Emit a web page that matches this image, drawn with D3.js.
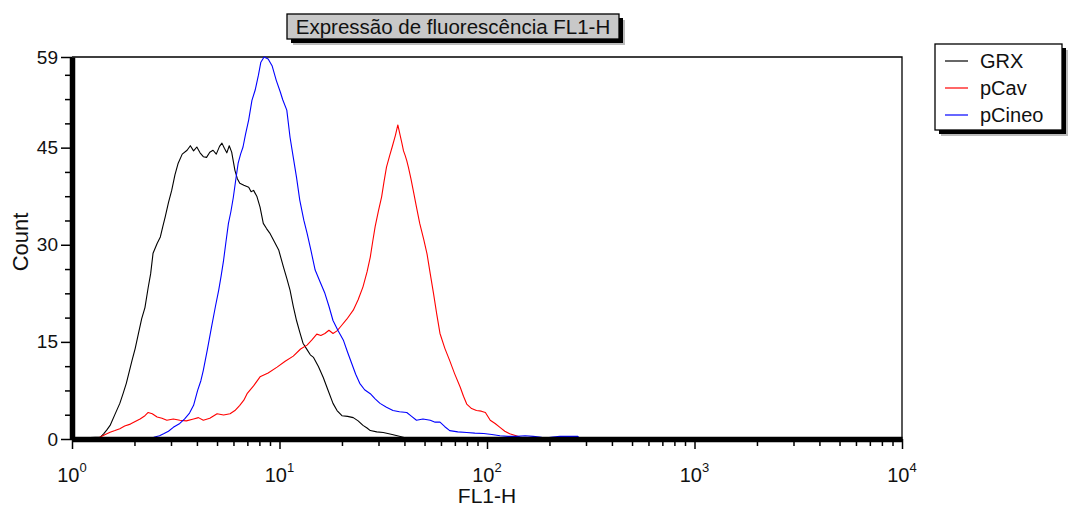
<!DOCTYPE html>
<html><head><meta charset="utf-8">
<script src="https://cdn.jsdelivr.net/npm/d3@7"></script>
<style>body{margin:0;background:#fff} svg{display:block} text{font-family:"Liberation Sans",Arial,sans-serif;fill:#111}</style>
</head><body><svg id="c" width="1074" height="510"></svg>
<script>
const chartTitle = "Expressão de fluorescência FL1-H";
const xLabel = "FL1-H";
const yLabel = "Count";
const seriesNames = ["GRX", "pCav", "pCineo"];
const seriesColors = ["#000000", "#ff0000", "#0000ff"];
const yTickValues = [0, 15, 30, 45, 59];
const yMinorTicks = [3.75, 7.5, 11.25, 18.75, 22.5, 26.25, 33.75, 37.5, 41.25, 48.75, 52.5, 56.25];
const xDecadeExponents = [0, 1, 2, 3, 4];
const channelsPerDecade = 256;

// Histogram data: FL1-H channel (log amplified, 256 channels per decade) and event count
const grxChannel = [0,16,35,39,43,47,53,59,63,67,71,74,78,82,86,90,94,97,100,105,109,112,115,119,123,127,131,136,142,146,150,154,158,162,166,170,174,178,182,185,188,191,194,197,201,204,207,212,218,221,224,228,232,236,240,244,250,255,261,265,269,273,277,281,285,290,294,298,304,310,316,322,327,333,340,347,353,359,364,368,376,384,395,405,417];
const grxCount = [0,0.2,0.3,0.8,1.4,2.1,3.8,5.5,7.0,8.6,10.6,12.1,14.0,16.3,18.6,20.3,23.4,25.5,28.7,30.2,31.2,32.8,34.3,36.5,38.4,40.8,42.6,44.0,44.6,45.3,44.5,45.1,44.2,43.6,43.5,44.3,44.6,44.0,45.2,45.7,44.9,44.2,45.3,44.3,41.5,40.2,39.5,39.2,38.9,38.2,38.4,37.5,35.8,33.3,32.5,31.8,30.4,29.2,26.5,24.8,23.0,20.5,18.3,16.5,14.8,13.8,13.0,12.6,11.2,9.5,7.5,5.5,4.4,3.6,3.5,3.3,2.8,2.1,1.7,1.3,1.1,1.0,0.7,0.4,0];

const pcavChannel = [28,35,41,47,53,59,65,72,78,84,90,94,99,105,111,117,125,133,141,150,156,162,170,179,187,195,201,207,212,216,224,232,242,253,263,273,282,290,296,302,307,312,317,322,327,331,339,347,353,359,364,368,371,374,378,382,385,388,392,395,399,402,405,407,409,411,413,415,418,421,425,429,434,438,442,446,450,454,460,466,472,479,483,487,493,499,505,510,516,522,528,534,540,551,555];
const pcavCount = [0,0.3,0.7,1.05,1.3,1.6,2.0,2.3,2.7,3.1,3.6,4.1,3.9,3.4,3.2,2.9,3.1,2.9,2.8,3.1,3.3,2.9,3.2,3.9,3.7,3.9,4.4,5.2,6.0,7.0,8.2,9.6,10.2,11.1,12.0,12.8,13.9,14.5,15.3,16.2,16.0,16.3,16.8,16.3,16.7,17.3,18.5,19.9,21.5,23.5,25.8,28.1,30.5,32.8,35.2,37.4,39.8,42.0,43.8,45.1,46.9,48.5,46.8,45.7,44.5,43.8,43.0,42.0,40.3,38.4,35.8,33.3,30.8,28.6,25.5,22.5,19.3,16.3,14.0,12.1,10.1,8.0,6.6,5.4,4.7,4.4,4.3,4.1,2.9,2.4,1.8,1.2,0.8,0.4,0];

const pcineoChannel = [96,102,108,113,119,125,133,139,145,150,155,159,162,167,172,177,181,184,187,190,193,196,199,202,205,208,211,214,218,222,226,230,233,237,242,247,252,257,260,265,269,273,277,281,286,290,295,300,306,312,317,322,328,335,340,345,350,355,361,368,374,380,388,396,404,413,419,425,433,442,448,454,460,466,476,487,497,508,518,528,538,549,559,569,577,584,593,602,613,624,627];
const pcineoCount = [0,0.3,0.5,0.8,1.2,1.8,2.4,3.1,4.0,5.2,7.5,9.0,10.6,13.8,17.2,20.5,23.0,25.2,27.6,30.5,33.3,35.1,37.3,40.0,42.6,44.0,45.1,47.0,49.3,52.3,53.9,56.2,58.2,59.0,58.7,57.6,55.4,53.6,52.4,50.8,46.6,43.5,40.4,36.9,33.8,31.8,29.0,26.1,24.3,22.5,20.5,18.3,16.8,15.2,13.4,11.7,10.0,8.6,7.6,7.0,6.2,5.5,4.9,4.4,4.2,4.1,3.5,2.9,3.1,2.9,2.6,2.6,1.9,1.3,1.1,1.0,0.9,0.85,0.7,0.5,0.4,0.4,0.5,0.4,0.3,0.15,0.3,0.4,0.4,0.4,0];

const toFL = ch => Math.pow(10, ch / channelsPerDecade);
const series = [
  {name: seriesNames[0], color: seriesColors[0], ch: grxChannel, n: grxCount},
  {name: seriesNames[1], color: seriesColors[1], ch: pcavChannel, n: pcavCount},
  {name: seriesNames[2], color: seriesColors[2], ch: pcineoChannel, n: pcineoCount}
].map(s => ({...s, points: s.ch.map((c, i) => ({fl: toFL(c), count: s.n[i]}))}));

const plot = {left: 72, right: 902, top: 57, bottom: 439};
const x = d3.scaleLog().domain([1, 1e4]).range([plot.left, plot.right]);
const y = d3.scaleLinear().domain([0, 59]).range([plot.bottom, plot.top]);
const svg = d3.select("#c");

// frame (top & right thin)
svg.append("path")
  .attr("d", `M${plot.left},${plot.top}H${plot.right}V${plot.bottom}`)
  .attr("fill", "none").attr("stroke", "#000").attr("stroke-width", 1.3);

// curves
const line = d3.line().x(d => x(d.fl)).y(d => y(d.count));
series.forEach(s => {
  svg.append("path").datum(s.points).attr("d", line)
    .attr("fill", "none").attr("stroke", s.color).attr("stroke-width", 1.1)
    .attr("stroke-linejoin", "round");
});

// y axis
const gY = svg.append("g").attr("transform", `translate(${plot.left},0)`)
  .call(d3.axisLeft(y).tickValues(yTickValues).tickSize(11).tickSizeOuter(0).tickPadding(3).tickFormat(d3.format("d")));
gY.select(".domain").attr("stroke-width", 5.5);
gY.selectAll(".tick line").attr("stroke-width", 1.5);
gY.selectAll(".tick text").style("font-size", "19px").attr("fill", "#1a1a2a");
svg.append("g").attr("transform", `translate(${plot.left},0)`)
  .call(d3.axisLeft(y).tickValues(yMinorTicks).tickSize(7).tickSizeOuter(0).tickFormat(""))
  .call(g => g.select(".domain").remove())
  .selectAll(".tick line").attr("stroke-width", 1.5);

// x axis
const majorX = xDecadeExponents.map(e => Math.pow(10, e));
const minorX = [];
xDecadeExponents.slice(0, -1).forEach(e => { for (let m = 2; m <= 9; m++) minorX.push(m * Math.pow(10, e)); });
const gX = svg.append("g").attr("transform", `translate(0,${plot.bottom})`)
  .call(d3.axisBottom(x).tickValues(majorX).tickSize(10).tickSizeOuter(0).tickFormat(""));
gX.select(".domain").attr("stroke-width", 5.5);
gX.selectAll(".tick line").attr("stroke-width", 1.5);
svg.append("g").attr("transform", `translate(0,${plot.bottom})`)
  .call(d3.axisBottom(x).tickValues(minorX).tickSize(7).tickSizeOuter(0).tickFormat(""))
  .call(g => g.select(".domain").remove())
  .selectAll(".tick line").attr("stroke-width", 1.5);

// x tick labels 10^n
xDecadeExponents.forEach(e => {
  const t = svg.append("text").attr("x", x(Math.pow(10, e))).attr("y", 482)
    .attr("text-anchor", "middle").style("font-size", "20px").attr("fill", "#1a1a2a");
  t.append("tspan").text("10");
  t.append("tspan").attr("dy", -10).style("font-size", "13px").text(String(e));
});

// axis titles
svg.append("text").attr("x", 487).attr("y", 503).attr("text-anchor", "middle")
  .style("font-size", "21px").text(xLabel);
svg.append("text").attr("transform", "translate(28,242) rotate(-90)").attr("text-anchor", "middle")
  .style("font-size", "22px").text(yLabel);

// title box
const tb = {x: 287, y: 14, w: 332, h: 25};
svg.append("rect").attr("x", tb.x + 6).attr("y", tb.y + 6).attr("width", tb.w).attr("height", tb.h).attr("fill", "#bbbbbb");
svg.append("rect").attr("x", tb.x + 4).attr("y", tb.y + 4).attr("width", tb.w).attr("height", tb.h).attr("fill", "#000");
svg.append("rect").attr("x", tb.x).attr("y", tb.y).attr("width", tb.w).attr("height", tb.h)
  .attr("fill", "#c8c8c8").attr("stroke", "#000").attr("stroke-width", 1.3);
svg.append("text").attr("x", tb.x + tb.w / 2).attr("y", tb.y + 20).attr("text-anchor", "middle")
  .style("font-size", "20.5px").text(chartTitle);

// legend
const lg = {x: 935, y: 44, w: 127, h: 86};
svg.append("rect").attr("x", lg.x + 6).attr("y", lg.y + 6).attr("width", lg.w).attr("height", lg.h).attr("fill", "#bbbbbb");
svg.append("rect").attr("x", lg.x + 4).attr("y", lg.y + 4).attr("width", lg.w).attr("height", lg.h).attr("fill", "#000");
svg.append("rect").attr("x", lg.x).attr("y", lg.y).attr("width", lg.w).attr("height", lg.h)
  .attr("fill", "#fff").attr("stroke", "#000").attr("stroke-width", 1.3);
series.forEach((s, i) => {
  const yy = lg.y + 17 + i * 27;
  svg.append("line").attr("x1", lg.x + 10).attr("x2", lg.x + 33).attr("y1", yy).attr("y2", yy)
    .attr("stroke", s.color).attr("stroke-width", 1.2);
  svg.append("text").attr("x", lg.x + 45).attr("y", yy + 7).style("font-size", "20px").text(s.name);
});
</script></body></html>
